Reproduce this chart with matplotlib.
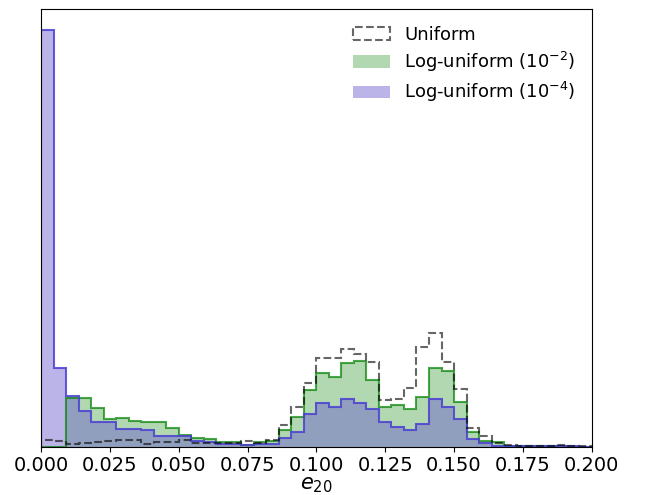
import numpy as np
import matplotlib
matplotlib.use('Agg')
import matplotlib.pyplot as plt

# histogram bins over e20
bin_edges = np.linspace(0, 0.2, 45)

# bin heights (arbitrary units)
uniform = [6.3, 6.0, 2.7, 3.2, 4.2, 6.0, 6.5, 6.3, 2.7, 4.7, 4.7, 6.5,
           3.3, 3.3, 4.0, 3.5, 5.7, 4.0, 7.0, 21.7, 39.7, 63.3, 88.7, 88.7,
           97.7, 92.5, 84.7, 47.0, 47.8, 58.3, 99.7, 113.7, 84.3, 57.3, 18.7, 10.7,
           4.0, 1.5, 0.8, 0.3, 0.3, 1.2, 0.3, 0.2]
log_1e2 = [0, 0, 49.0, 48.3, 38.3, 28.0, 28.5, 26.0, 24.8, 24.3, 18.5, 12.0,
           8.3, 7.7, 5.0, 4.3, 2.0, 5.0, 5.7, 16.7, 29.3, 56.7, 74.0, 70.0,
           84.0, 85.7, 66.5, 40.0, 41.3, 37.3, 49.5, 78.5, 75.3, 45.0, 15.0, 5.8,
           4.2, 0.7, 0.3, 0.2, 0.2, 0.2, 0.1, 0.1]
log_1e4 = [416.0, 78.3, 50.5, 35.7, 24.7, 24.7, 17.2, 18.0, 16.5, 10.7, 10.7, 11.0,
           6.0, 5.0, 2.3, 2.3, 1.7, 2.3, 3.0, 8.3, 14.2, 32.7, 43.3, 39.5,
           47.7, 43.3, 38.0, 25.0, 20.0, 16.7, 22.3, 47.7, 40.0, 27.7, 7.8, 3.3,
           0.8, 0.3, 0.3, 0.2, 0.2, 0.6, 0.2, 0.1]

centers = 0.5 * (bin_edges[:-1] + bin_edges[1:])

fig = plt.figure(figsize=(6.45, 4.95), dpi=100)
ax = fig.add_axes([41 / 645, 1 - 446.7 / 495, 550.7 / 645, 437.4 / 495])

ax.hist(centers, bins=bin_edges, weights=uniform, histtype='step', color='k',
        alpha=0.6, linestyle='--', linewidth=1.5, label='Uniform', zorder=5)

ax.hist(centers, bins=bin_edges, weights=log_1e2, histtype='stepfilled',
        color='green', alpha=0.3, label=r'Log-uniform ($10^{-2}$)')
ax.hist(centers, bins=bin_edges, weights=log_1e2, histtype='step',
        color='green', alpha=0.7, linewidth=1.5)

ax.hist(centers, bins=bin_edges, weights=log_1e4, histtype='stepfilled',
        color='slateblue', alpha=0.45, label=r'Log-uniform ($10^{-4}$)')
ax.hist(centers, bins=bin_edges, weights=log_1e4, histtype='step',
        color='#4a3fd0', alpha=0.85, linewidth=1.5)

ax.set_xlim(0, 0.2)
ax.set_yticks([])
ax.tick_params(axis='x', labelsize=14)
ax.set_xlabel(r'$e_{20}$', fontsize=15, labelpad=0)
ax.legend(loc='upper right', frameon=False, fontsize=13, labelspacing=0.35)

plt.savefig('out.png', dpi=100)
plt.close()
